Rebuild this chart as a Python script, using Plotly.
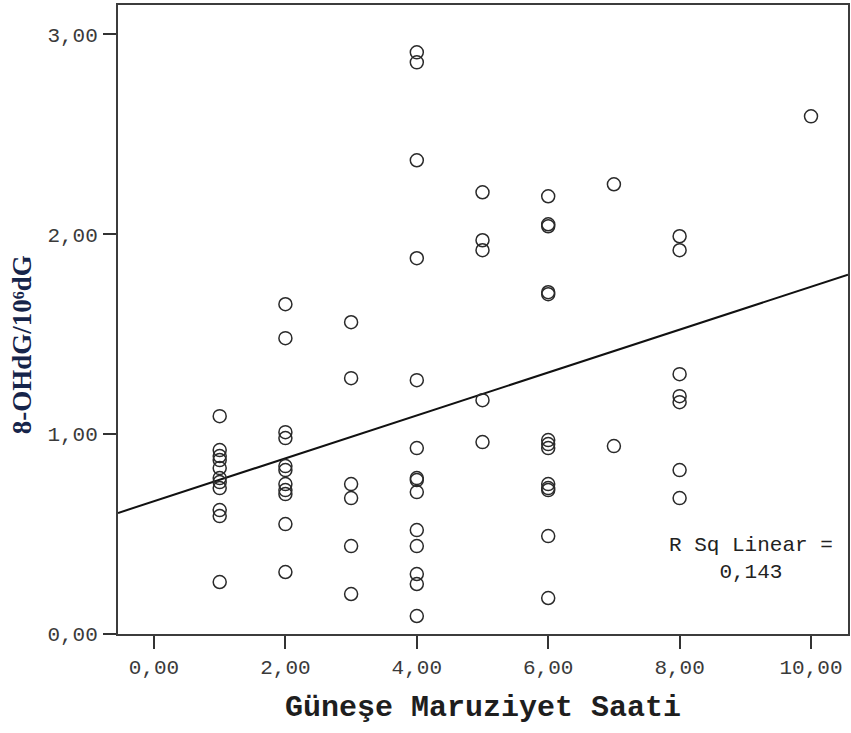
import numpy as np
import plotly.graph_objects as go

# ---- data ----
hours = [1, 2, 3, 4, 5, 6, 7, 8, 10]
h1 = [1.09, 0.92, 0.89, 0.87, 0.83, 0.78, 0.76, 0.73, 0.62, 0.59, 0.26]
h2 = [1.65, 1.48, 1.01, 0.98, 0.84, 0.82, 0.75, 0.72, 0.70, 0.55, 0.31]
h3 = [1.56, 1.28, 0.75, 0.68, 0.44, 0.20]
h4 = [2.91, 2.86, 2.37, 1.88, 1.27, 0.93, 0.78, 0.77, 0.71, 0.52, 0.44, 0.30, 0.25, 0.09]
h5 = [2.21, 1.97, 1.92, 1.17, 0.96]
h6 = [2.19, 2.05, 2.04, 1.71, 1.70, 0.97, 0.95, 0.93, 0.75, 0.73, 0.72, 0.49, 0.18]
h7 = [2.25, 0.94]
h8 = [1.99, 1.92, 1.30, 1.19, 1.16, 0.82, 0.68]
h10 = [2.59]
groups = [h1, h2, h3, h4, h5, h6, h7, h8, h10]

x_tickvals = [0, 2, 4, 6, 8, 10]
x_ticktext = ["0,00", "2,00", "4,00", "6,00", "8,00", "10,00"]
y_tickvals = [0, 1, 2, 3]
y_ticktext = ["0,00", "1,00", "2,00", "3,00"]
r2_text = "R Sq Linear =<br>0,143"

x_all = []
y_all = []
for h, ys in zip(hours, groups):
    x_all += [h] * len(ys)
    y_all += ys
x_all = np.array(x_all, dtype=float)
y_all = np.array(y_all, dtype=float)

X_RANGE = [-0.548, 10.563]
Y_RANGE = [0, 3.147]

slope, intercept = np.polyfit(x_all, y_all, 1)
fit_x = np.array(X_RANGE)
fit_y = intercept + slope * fit_x

fig = go.Figure()
fig.add_trace(go.Scatter(
    x=fit_x, y=fit_y, mode="lines",
    line=dict(color="#111111", width=2),
    hoverinfo="skip", showlegend=False,
))
fig.add_trace(go.Scatter(
    x=x_all, y=y_all, mode="markers",
    marker=dict(symbol="circle-open", size=13, color="#2a2a2a",
                line=dict(color="#2a2a2a", width=1.5)),
    showlegend=False,
))

tick_font = dict(family="Liberation Mono, Courier New, monospace", size=21, color="#3a3a3a")

fig.update_xaxes(
    range=X_RANGE, tickvals=x_tickvals, ticktext=x_ticktext,
    showgrid=False, zeroline=False,
    showline=True, mirror=True, linecolor="#3c3c3c", linewidth=2,
    ticks="outside", ticklen=13, tickwidth=2, tickcolor="#333333",
    tickfont=tick_font, ticklabelstandoff=0, automargin=False,
)
fig.update_yaxes(
    range=Y_RANGE, tickvals=y_tickvals, ticktext=y_ticktext,
    showgrid=False, zeroline=False,
    showline=True, mirror=True, linecolor="#3c3c3c", linewidth=2,
    ticks="outside", ticklen=13, tickwidth=2, tickcolor="#333333",
    tickfont=tick_font, ticklabelstandoff=1, automargin=False,
)

fig.add_annotation(
    text="Güneşe Maruziyet Saati", xref="paper", yref="paper",
    x=0.5, y=0, xanchor="center", yanchor="middle", yshift=-74,
    showarrow=False,
    font=dict(family="Liberation Mono, Courier New, monospace", size=30, color="#1e1e1e", weight="bold"),
)
fig.add_annotation(
    text="8-OHdG/10⁶dG", xref="paper", yref="paper",
    x=0, y=0.459, xanchor="center", yanchor="middle", xshift=-96,
    textangle=-90, showarrow=False,
    font=dict(family="Liberation Serif, Times New Roman, serif", size=27, color="#16244a", weight="bold"),
)
fig.add_annotation(
    text=r2_text, xref="x", yref="y",
    x=9.09, y=0.376, xanchor="center", yanchor="middle", align="center",
    showarrow=False,
    font=dict(family="Liberation Mono, Courier New, monospace", size=21, color="#222222"),
)

fig.update_layout(
    width=851, height=733,
    margin=dict(l=118, r=3, t=5, b=99),
    paper_bgcolor="white", plot_bgcolor="white",
    showlegend=False,
)

fig.write_html("out.html", config={"displayModeBar": False},
               post_script="document.body.style.margin='0';")
